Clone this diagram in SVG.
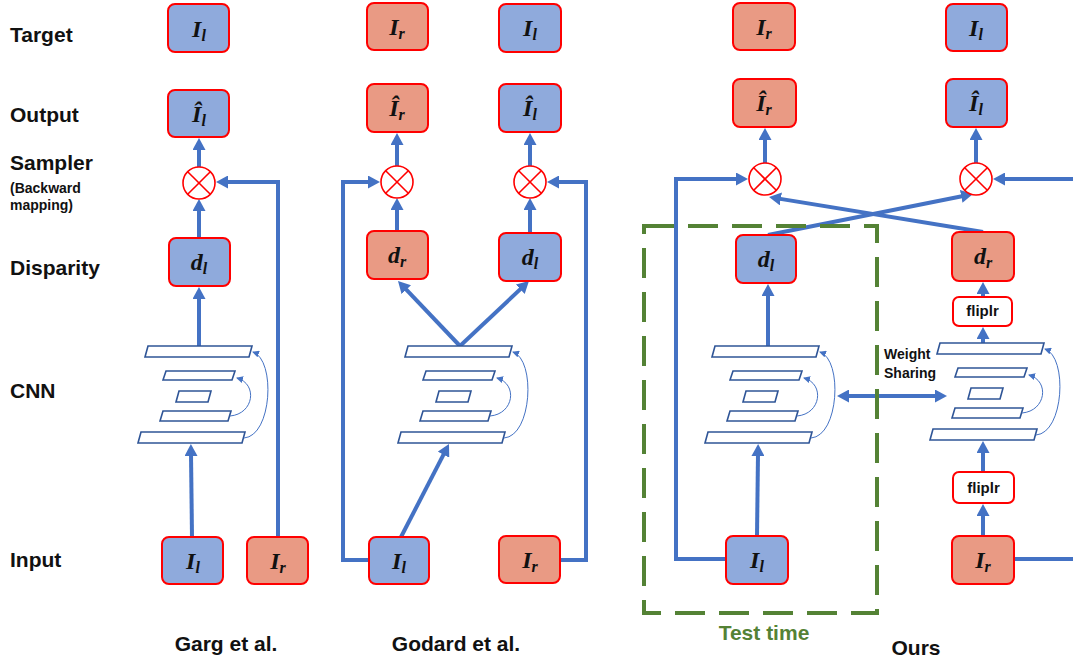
<svg xmlns="http://www.w3.org/2000/svg" xmlns:xlink="http://www.w3.org/1999/xlink" width="1073" height="659" viewBox="0 0 1073 659">
<style>
.lbl{font-family:"Liberation Sans",Arial,sans-serif;font-weight:bold;font-size:21px;fill:#111}
.sm{font-family:"Liberation Sans",Arial,sans-serif;font-weight:bold;font-size:14px;fill:#111}
.blue{fill:#8FAADC;stroke:#FF0000;stroke-width:2}
.sal{fill:#E99A84;stroke:#FF0000;stroke-width:2}
.wht{fill:#FFFFFF;stroke:#FF0000;stroke-width:2}
.m{font-family:"Liberation Serif","Times New Roman",serif;font-weight:bold;font-style:italic;font-size:24px;fill:#111;text-anchor:middle}
.sub{font-size:16px}
.fl{font-family:"Liberation Sans",Arial,sans-serif;font-weight:bold;font-size:15px;fill:#111;text-anchor:middle}
.ar{fill:none;stroke:#4472C4;stroke-width:4;marker-end:url(#ah)}
.ln{fill:none;stroke:#4472C4;stroke-width:4}
.bar{fill:#FFFFFF;stroke:#2F5597;stroke-width:1.6}
.skip{fill:none;stroke:#4472C4;stroke-width:1;marker-end:url(#sh)}
.circ{fill:#FFFFFF;stroke:#FF0000;stroke-width:1.6}
.x{stroke:#FF0000;stroke-width:1.6}
</style>
<defs>
<marker id="ah" markerUnits="userSpaceOnUse" markerWidth="12" markerHeight="13" viewBox="0 0 12 13" refX="2" refY="6.5" orient="auto-start-reverse"><path d="M0,0 L12,6.5 L0,13 z" fill="#4472C4"/></marker>
<marker id="sh" markerUnits="userSpaceOnUse" markerWidth="7" markerHeight="7" viewBox="0 0 7 7" refX="6" refY="3.5" orient="auto"><path d="M0,0 L7,3.5 L0,7 z" fill="#4472C4"/></marker>
<g id="cnnT">
<path class="bar" d="M145,357 L148,346 L252,346 L249,357 Z"/>
<path class="bar" d="M163,380 L166,371 L235,371 L232,380 Z"/>
<path class="bar" d="M176,402 L179,391 L211,391 L208,402 Z"/>
<path class="bar" d="M160,421 L163,411 L231,411 L228,421 Z"/>
<path class="bar" d="M138,443 L141,432 L245,432 L242,443 Z"/>
<path class="skip" d="M230,416 C254,414 258,384 237,378"/>
<path class="skip" d="M244,438 C272,436 276,360 253,352"/>
</g>
<g id="sampT">
<circle class="circ" cx="0" cy="0" r="16"/>
<line class="x" x1="-11.3" y1="-11.3" x2="11.3" y2="11.3"/>
<line class="x" x1="-11.3" y1="11.3" x2="11.3" y2="-11.3"/>
</g>
</defs>

<rect width="1073" height="659" fill="#FFFFFF"/>

<g id="row-labels">
<text class="lbl" x="10" y="42">Target</text>
<text class="lbl" x="10" y="122">Output</text>
<text class="lbl" x="10" y="170">Sampler</text>
<text class="sm" x="10" y="193">(Backward</text>
<text class="sm" x="10" y="210">mapping)</text>
<text class="lbl" x="10" y="275">Disparity</text>
<text class="lbl" x="10" y="398">CNN</text>
<text class="lbl" x="10" y="567">Input</text>
</g>

<g id="connectors">
<!-- Garg -->
<line class="ar" x1="192" y1="537" x2="191" y2="454"/>
<line class="ar" x1="199" y1="346" x2="199" y2="297"/>
<line class="ar" x1="199" y1="238" x2="199" y2="209"/>
<line class="ar" x1="199" y1="167" x2="199" y2="148"/>
<polyline class="ar" points="278,537 278,182 226,182"/>
<!-- Godard -->
<line class="ar" x1="401" y1="537" x2="444.4" y2="452.9"/>
<line class="ar" x1="460" y1="346" x2="404.9" y2="288.2"/>
<line class="ar" x1="460" y1="346" x2="521.7" y2="287.9"/>
<line class="ar" x1="397" y1="231" x2="397" y2="208"/>
<line class="ar" x1="530" y1="233" x2="530" y2="208"/>
<line class="ar" x1="397" y1="166" x2="397" y2="143"/>
<line class="ar" x1="530" y1="166" x2="530" y2="143"/>
<polyline class="ar" points="369,560 343,560 343,182 370,182"/>
<polyline class="ar" points="560,560 586,560 586,182 557,182"/>
<!-- Ours -->
<polyline class="ar" points="726,559 676,559 676,179 738,179"/>
<line class="ar" x1="765" y1="163" x2="765" y2="138"/>
<line class="ar" x1="976" y1="163" x2="976" y2="138"/>
<line class="ar" x1="1073" y1="179" x2="1003" y2="179"/>
<line class="ar" x1="768" y1="235" x2="963.2" y2="196"/>
<line class="ar" x1="983" y1="232" x2="778.9" y2="198.6"/>
<line class="ar" x1="768" y1="347" x2="768" y2="294"/>
<line class="ar" x1="757" y1="536" x2="758" y2="454"/>
<line class="ar" x1="983" y1="343" x2="983" y2="337"/>
<line class="ar" x1="983" y1="297" x2="983" y2="292"/>
<line class="ar" x1="983" y1="536" x2="983" y2="514"/>
<line class="ar" x1="983" y1="472" x2="983" y2="451"/>
<line class="ln" x1="1014" y1="559" x2="1073" y2="559"/>
<line class="ar" x1="847" y1="396" x2="937" y2="396" marker-start="url(#ah)"/>
</g>

<!-- Garg et al. -->
<g id="garg-target-il"><rect class="blue" x="168" y="4" width="61" height="48" rx="7"/><text class="m" x="199" y="37">I<tspan class="sub" dy="4">l</tspan></text></g>
<g id="garg-output-il"><rect class="blue" x="168" y="90" width="61" height="47" rx="7"/><text class="m" x="199" y="122">Î<tspan class="sub" dy="4">l</tspan></text></g>
<g id="garg-sampler"><use xlink:href="#sampT" transform="translate(199,183)"/></g>
<g id="garg-disp-dl"><rect class="blue" x="169" y="238" width="61" height="48" rx="7"/><text class="m" x="199" y="270">d<tspan class="sub" dy="4">l</tspan></text></g>
<g id="garg-cnn"><use xlink:href="#cnnT"/></g>
<g id="garg-input-il"><rect class="blue" x="162" y="537" width="61" height="47" rx="7"/><text class="m" x="193" y="569">I<tspan class="sub" dy="4">l</tspan></text></g>
<g id="garg-input-ir"><rect class="sal" x="247" y="537" width="61" height="47" rx="7"/><text class="m" x="278" y="569">I<tspan class="sub" dy="4">r</tspan></text></g>

<!-- Godard et al. -->
<g id="godard-target-ir"><rect class="sal" x="367" y="3" width="61" height="47" rx="7"/><text class="m" x="397" y="35">I<tspan class="sub" dy="4">r</tspan></text></g>
<g id="godard-target-il"><rect class="blue" x="499" y="4" width="62" height="48" rx="7"/><text class="m" x="530" y="36">I<tspan class="sub" dy="4">l</tspan></text></g>
<g id="godard-output-ir"><rect class="sal" x="367" y="84" width="61" height="48" rx="7"/><text class="m" x="397" y="116">Î<tspan class="sub" dy="4">r</tspan></text></g>
<g id="godard-output-il"><rect class="blue" x="499" y="84" width="62" height="48" rx="7"/><text class="m" x="530" y="116">Î<tspan class="sub" dy="4">l</tspan></text></g>
<g id="godard-sampler-r"><use xlink:href="#sampT" transform="translate(397,182)"/></g>
<g id="godard-sampler-l"><use xlink:href="#sampT" transform="translate(530,182)"/></g>
<g id="godard-disp-dr"><rect class="sal" x="367" y="231" width="61" height="48" rx="7"/><text class="m" x="397" y="263">d<tspan class="sub" dy="4">r</tspan></text></g>
<g id="godard-disp-dl"><rect class="blue" x="499" y="233" width="62" height="48" rx="7"/><text class="m" x="530" y="265">d<tspan class="sub" dy="4">l</tspan></text></g>
<g id="godard-cnn"><use xlink:href="#cnnT" transform="translate(260,0)"/></g>
<g id="godard-input-il"><rect class="blue" x="369" y="537" width="60" height="47" rx="7"/><text class="m" x="399" y="569">I<tspan class="sub" dy="4">l</tspan></text></g>
<g id="godard-input-ir"><rect class="sal" x="499" y="536" width="61" height="47" rx="7"/><text class="m" x="530" y="568">I<tspan class="sub" dy="4">r</tspan></text></g>

<!-- Ours -->
<g id="test-time-box"><rect x="644" y="226" width="233" height="387" fill="none" stroke="#548235" stroke-width="4" stroke-dasharray="30 14"/></g>
<g id="ours-target-ir"><rect class="sal" x="733" y="3" width="62" height="47" rx="7"/><text class="m" x="764" y="35">I<tspan class="sub" dy="4">r</tspan></text></g>
<g id="ours-target-il"><rect class="blue" x="946" y="4" width="61" height="47" rx="7"/><text class="m" x="976" y="36">I<tspan class="sub" dy="4">l</tspan></text></g>
<g id="ours-output-ir"><rect class="sal" x="733" y="79" width="63" height="48" rx="7"/><text class="m" x="764" y="111">Î<tspan class="sub" dy="4">r</tspan></text></g>
<g id="ours-output-il"><rect class="blue" x="946" y="79" width="61" height="48" rx="7"/><text class="m" x="976" y="111">Î<tspan class="sub" dy="4">l</tspan></text></g>
<g id="ours-sampler-r"><use xlink:href="#sampT" transform="translate(765,179)"/></g>
<g id="ours-sampler-l"><use xlink:href="#sampT" transform="translate(976,179)"/></g>
<g id="ours-disp-dl"><rect class="blue" x="736" y="235" width="60" height="48" rx="7"/><text class="m" x="766" y="267">d<tspan class="sub" dy="4">l</tspan></text></g>
<g id="ours-disp-dr"><rect class="sal" x="952" y="232" width="62" height="49" rx="7"/><text class="m" x="983" y="264">d<tspan class="sub" dy="4">r</tspan></text></g>
<g id="ours-fliplr-top"><rect class="wht" x="953" y="297" width="59" height="29" rx="6"/><text class="fl" x="982.5" y="316">fliplr</text></g>
<g id="ours-cnn-left"><use xlink:href="#cnnT" transform="translate(567,0)"/></g>
<g id="ours-cnn-right"><use xlink:href="#cnnT" transform="translate(792,-3)"/></g>
<g id="weight-sharing"><text class="sm" x="884" y="359">Weight</text><text class="sm" x="884" y="378">Sharing</text></g>
<g id="ours-fliplr-bottom"><rect class="wht" x="953" y="472" width="61" height="31" rx="6"/><text class="fl" x="983.5" y="493">fliplr</text></g>
<g id="ours-input-il"><rect class="blue" x="726" y="536" width="62" height="48" rx="7"/><text class="m" x="757" y="568">I<tspan class="sub" dy="4">l</tspan></text></g>
<g id="ours-input-ir"><rect class="sal" x="952" y="536" width="62" height="48" rx="7"/><text class="m" x="983" y="568">I<tspan class="sub" dy="4">r</tspan></text></g>

<g id="captions">
<text class="lbl" x="226" y="651" text-anchor="middle">Garg et al.</text>
<text class="lbl" x="456" y="651" text-anchor="middle">Godard et al.</text>
<text class="lbl" x="764" y="640" text-anchor="middle" style="fill:#548235">Test time</text>
<text class="lbl" x="916" y="655" text-anchor="middle">Ours</text>
</g>
</svg>
